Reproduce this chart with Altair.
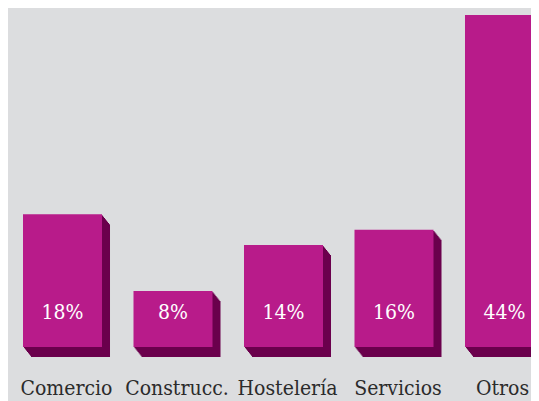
import altair as alt
import pandas as pd

categories = ["Comercio", "Construcc.", "Hostelería", "Servicios", "Otros"]
values = [18, 8, 14, 16, 44]

BG = "#dcdddf"
FRONT = "#b81b8a"
SIDE = "#6b004d"
TEXT = "#2b2b2b"

df = pd.DataFrame({"cat": categories, "val": values})
df["label"] = df["val"].astype(str) + "%"

xs = alt.Scale(domain=categories, range=[15, 536], paddingInner=0.285, paddingOuter=0)
ys = alt.Scale(domain=[0.7, 44], range=[339, 7], zero=False)

base = alt.Chart(df)
X = alt.X("cat:N", scale=xs, axis=None, sort=categories)

layers = []
steps = 8
for k in range(steps, 0, -1):
    dx = k * 8 / steps
    dy = k * 10 / steps
    layers.append(
        base.mark_bar(color=SIDE, xOffset=dx, yOffset=dy, y2Offset=dy).encode(
            x=X,
            y=alt.Y("val:Q", scale=ys, axis=None),
            y2=alt.datum(0.7),
        )
    )

front = base.mark_bar(color=FRONT).encode(
    x=X,
    y=alt.Y("val:Q", scale=ys, axis=None),
    y2=alt.datum(0.7),
)

pct = base.mark_text(
    color="white", font="DejaVu Serif Condensed, DejaVu Serif", fontSize=21, baseline="alphabetic", align="center"
).encode(x=X, y=alt.value(311), text="label:N")

last = categories[-1]
cat_text = base.transform_filter(alt.datum.cat != last).mark_text(
    color=TEXT, font="DejaVu Serif Condensed, DejaVu Serif", fontSize=21, baseline="alphabetic", align="center", dx=4
).encode(x=X, y=alt.value(387), text="cat:N")

cat_last = base.transform_filter(alt.datum.cat == last).mark_text(
    color=TEXT, font="DejaVu Serif Condensed, DejaVu Serif", fontSize=21, baseline="alphabetic", align="center", dx=-2
).encode(x=X, y=alt.value(387), text="cat:N")

chart = alt.layer(*layers, front, pct, cat_text, cat_last).properties(
    width=523, height=393, background=BG, padding=0, autosize=alt.AutoSizeParams(type="none")
).configure_view(stroke=None)

chart.save("out.html", embed_options={"renderer": "svg", "actions": False})
